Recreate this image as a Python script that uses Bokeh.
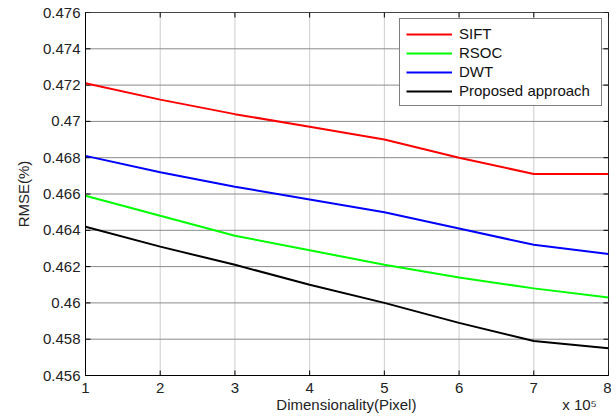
import math
from bokeh.plotting import figure
from bokeh.models import (Legend, LegendItem, FixedTicker, CustomJSTickFormatter, Range1d)
from bokeh.embed import file_html
from bokeh.resources import INLINE

dims = [1, 2, 3, 4, 5, 6, 7, 8]
sift = [0.4721, 0.4712, 0.4704, 0.4697, 0.4690, 0.4680, 0.4671, 0.4671]
rsoc = [0.4659, 0.4648, 0.4637, 0.4629, 0.4621, 0.4614, 0.4608, 0.4603]
dwt = [0.4681, 0.4672, 0.4664, 0.4657, 0.4650, 0.4641, 0.4632, 0.4627]
proposed = [0.4642, 0.4631, 0.4621, 0.4610, 0.4600, 0.4589, 0.4579, 0.4575]
series_names = ["SIFT", "RSOC", "DWT", "Proposed approach"]
series_colors = ["#ff0000", "#00ff00", "#0000ff", "#000000"]
x_ticks = [1, 2, 3, 4, 5, 6, 7, 8]
y_ticks = [0.456, 0.458, 0.46, 0.462, 0.464, 0.466, 0.468, 0.47, 0.472, 0.474, 0.476]
x_title = "Dimensionality(Pixel)"
x_exponent = "x 10\u2075"
y_title = "RMSE(%)"

FONT = "Liberation Sans"
x_lo, x_hi = x_ticks[0], x_ticks[-1]
y_lo, y_hi = y_ticks[0], y_ticks[-1]

p = figure(width=611, height=417, output_backend="svg", toolbar_location=None,
           x_range=Range1d(x_lo, x_hi), y_range=Range1d(y_lo, y_hi),
           min_border_left=85, min_border_right=3, min_border_top=12, min_border_bottom=42)
p.outline_line_color = "black"
p.outline_line_width = 1
p.background_fill_color = "white"
p.border_fill_color = "white"
p.xgrid.visible = False
p.ygrid.visible = False

fmt = CustomJSTickFormatter(code="return String(Number(tick.toFixed(3)));")

NB = "\u00a0"
p.xaxis.ticker = FixedTicker(ticks=x_ticks)
# the "x 10^5" multiplier sits on the same line as the axis title, pushed right with no-break spaces
p.xaxis.axis_label = NB * 43 + x_title + NB * 35 + x_exponent
p.yaxis.ticker = FixedTicker(ticks=y_ticks)
p.yaxis.formatter = fmt
p.yaxis.axis_label = y_title

for ax in list(p.xaxis) + list(p.yaxis):
    ax.axis_line_color = "black"
    ax.major_tick_in = 0
    ax.major_tick_out = 0
    ax.minor_tick_line_color = None
    ax.major_tick_line_color = None
    ax.major_label_text_font = FONT
    ax.major_label_text_font_size = "15px"
    ax.major_label_text_color = "#222222"
    ax.axis_label_text_font = FONT
    ax.axis_label_text_font_size = "15px"
    ax.axis_label_text_font_style = "normal"
    ax.axis_label_text_color = "#222222"
p.xaxis.major_label_standoff = 7
p.xaxis.axis_label_standoff = 0
p.yaxis.major_label_standoff = 5
p.yaxis.axis_label_standoff = 8

# grid lines drawn from the tick arrays
p.segment(x0=x_ticks, y0=[y_lo] * len(x_ticks), x1=x_ticks, y1=[y_hi] * len(x_ticks),
          line_color="#9a9a9a", line_width=1, line_dash="1 1")
p.segment(x0=[x_lo] * len(y_ticks), y0=y_ticks, x1=[x_hi] * len(y_ticks), y1=y_ticks,
          line_color="#8a8a8a", line_width=1)

# inward tick marks (MATLAB style), on all four sides
p.scatter(x=[x_lo] * len(y_ticks), y=y_ticks, marker="dash", size=10, line_color="black", line_width=1)
p.scatter(x=[x_hi] * len(y_ticks), y=y_ticks, marker="dash", size=10, line_color="black", line_width=1)
p.scatter(x=x_ticks, y=[y_lo] * len(x_ticks), marker="dash", size=10, angle=math.pi / 2,
          line_color="black", line_width=1)
p.scatter(x=x_ticks, y=[y_hi] * len(x_ticks), marker="dash", size=10, angle=math.pi / 2,
          line_color="black", line_width=1)

items = []
for name, vals, col in zip(series_names, [sift, rsoc, dwt, proposed], series_colors):
    r = p.line(dims, vals, line_color=col, line_width=2)
    items.append(LegendItem(label=name, renderers=[r]))

legend = Legend(items=items, location="top_right")
legend.label_text_font = FONT
legend.label_text_font_size = "15px"
legend.label_text_color = "#111111"
legend.glyph_width = 46
legend.glyph_height = 16
legend.label_standoff = 7
legend.label_width = 136
legend.spacing = 2
legend.padding = 6
legend.margin = 6
legend.border_line_color = "black"
legend.border_line_width = 1
legend.background_fill_color = "white"
legend.background_fill_alpha = 1
p.add_layout(legend)

open("out.html", "w").write(file_html(p, INLINE))
